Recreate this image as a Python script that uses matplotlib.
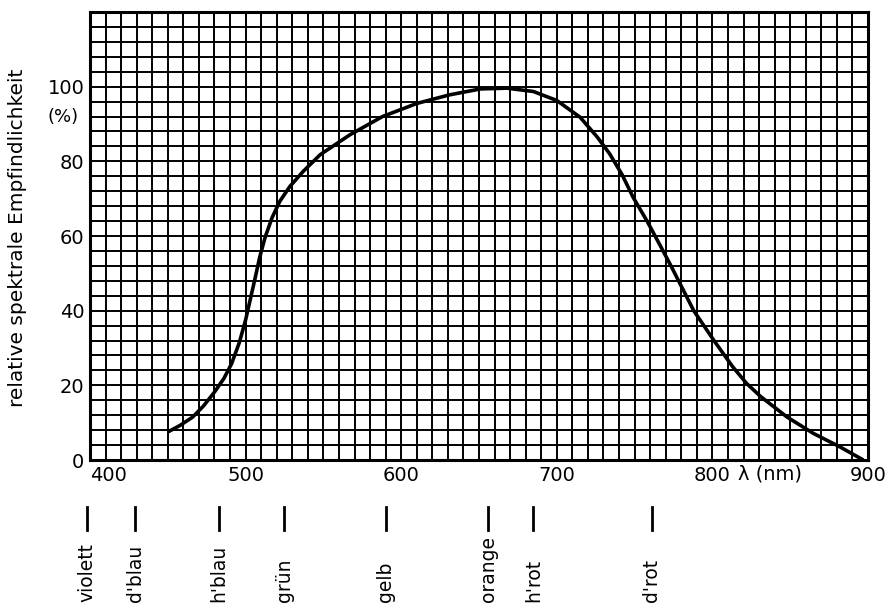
import numpy as np
import matplotlib
matplotlib.use("Agg")
import matplotlib.pyplot as plt

# relative spectral sensitivity
wavelength = [450, 458, 466, 473, 480, 486, 491, 496, 500, 503, 506, 509, 512.5, 517,
              522, 528.5, 537, 548, 567, 588, 610, 631, 651, 668, 685, 700, 715,
              726, 734, 742, 749, 758, 766, 774, 788, 801, 813, 822, 831, 848, 865, 882, 897]
sensitivity = [7.5, 9.3, 11.5, 14.5, 18.2, 21.8, 25.8, 31.5, 37.5, 43.0, 48.5, 54.2, 59.6, 64.9,
               69.3, 73.3, 77.3, 81.8, 87.1, 92.0, 95.5, 97.8, 99.4, 99.6, 98.7, 96.3, 91.8,
               86.5, 82.0, 76.4, 70.4, 64.0, 57.8, 51.5, 40.0, 32.0, 25.0, 20.5, 17.0, 11.5,
               7.1, 3.5, 0.0]

# colour names under the axis and the wavelength they point at
colour_names = ["violett", "d'blau", "h'blau", "grün", "gelb", "orange", "h'rot", "d'rot"]
colour_wl = [398, 429, 483, 525, 590, 656, 685, 761]

x_ticks = [400, 500, 600, 700, 800, 900]
y_ticks = [0, 20, 40, 60, 80, 100]

plt.rcParams['font.family'] = ['DejaVu Sans']

fig = plt.figure(figsize=(8.89, 6.04), dpi=100)
ax = fig.add_axes([90 / 889, 144 / 604, 778 / 889, 448 / 604])

ax.set_xlim(400, 900)
ax.set_ylim(0, 120)

# graph paper grid
for x in np.arange(410, 900, 10):
    ax.axvline(x, color='black', linewidth=1.4, zorder=1)
for y in np.arange(4, 120, 4):
    ax.axhline(y, color='black', linewidth=1.4, zorder=1)

ax.plot(wavelength, sensitivity, color='black', linewidth=2.6, zorder=3,
        solid_capstyle='butt', solid_joinstyle='round')

for s in ax.spines.values():
    s.set_linewidth(2.2)

ax.set_xticks(x_ticks)
ax.set_xticklabels([str(v) for v in x_ticks], fontsize=14)
ax.set_yticks(y_ticks)
ax.set_yticklabels([str(v) for v in y_ticks], fontsize=14)
ax.tick_params(length=0, pad=4)
ax.get_xticklabels()[0].set_horizontalalignment('left')

ax.text(837, -0.031, 'λ (nm)', fontsize=14, ha='center', va='center',
        transform=ax.get_xaxis_transform())
ax.text(-0.035, 0.766, '(%)', transform=ax.transAxes, fontsize=13,
        ha='center', va='center')
fig.text(18 / 889, 1 - 238 / 604, 'relative spektrale Empfindlichkeit',
         rotation=90, fontsize=14.5, ha='center', va='center')

# colour markers below the axis
tr = ax.get_xaxis_transform()
for name, wl in zip(colour_names, colour_wl):
    ax.plot([wl, wl], [-0.105, -0.156], color='black', linewidth=2,
            transform=tr, clip_on=False)
    ax.text(wl, -0.318, name, rotation=90, fontsize=13.5, ha='center',
            va='bottom', transform=tr)

fig.savefig('out.png', dpi=100)
